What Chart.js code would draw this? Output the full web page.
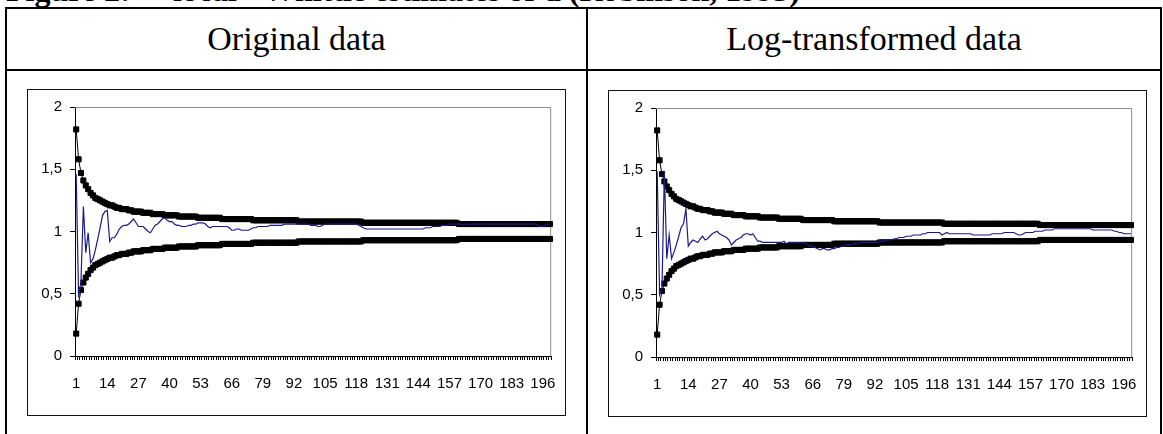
<!DOCTYPE html>
<html lang="en">
<head>
<meta charset="UTF-8">
<script src="https://cdn.jsdelivr.net/npm/chart.js@4.4.0/dist/chart.umd.min.js"></script>
<title>Local Whittle estimates of d</title>
<style>
    body {
        margin: 0;
        width: 1163px;
        height: 434px;
        overflow: hidden;
        position: relative;
        background: #fff;
        font-family: "Liberation Serif", "Times New Roman", serif;
    }
    .cap {
        position: absolute;
        top: -26px;
        font-size: 32px;
        line-height: 32px;
        font-weight: bold;
        white-space: nowrap;
    }
    .ln { position: absolute; background: #000; }
    .head {
        position: absolute;
        top: 9px;
        height: 60px;
        display: flex;
        align-items: center;
        justify-content: center;
        font-size: 34px;
        white-space: nowrap;
    }
    .box {
        position: absolute;
        border: 1.5px solid #111;
    }
    .box canvas { display: block; }
</style>
</head>
<body>
    <div class="cap" style="left:6px">Figure 2:</div>
    <div class="cap" style="left:173px">local - Whittle estimates of d (Robinson, 1995)</div>

    <div class="ln" style="left:5px; top:7px; width:1157px; height:2px"></div>
    <div class="ln" style="left:5px; top:69px; width:1157px; height:2px"></div>
    <div class="ln" style="left:5px; top:7px; width:2px; height:427px"></div>
    <div class="ln" style="left:586px; top:7px; width:2px; height:427px"></div>
    <div class="ln" style="left:1160px; top:7px; width:2px; height:427px"></div>

    <div class="head" style="left:7px; width:579px">Original data</div>
    <div class="head" style="left:588px; width:572px">Log-transformed data</div>

    <div class="box" style="left:26.5px; top:88.5px"><canvas id="orig" width="537" height="325"></canvas></div>
    <div class="box" style="left:607.5px; top:89.5px"><canvas id="logt" width="537" height="325"></canvas></div>
<script>
    const categories = [
        1, 2, 3, 4, 5, 6, 7, 8, 9, 10, 11, 12, 13, 14, 15, 16, 17, 18, 19, 20,
        21, 22, 23, 24, 25, 26, 27, 28, 29, 30, 31, 32, 33, 34, 35, 36, 37, 38, 39, 40,
        41, 42, 43, 44, 45, 46, 47, 48, 49, 50, 51, 52, 53, 54, 55, 56, 57, 58, 59, 60,
        61, 62, 63, 64, 65, 66, 67, 68, 69, 70, 71, 72, 73, 74, 75, 76, 77, 78, 79, 80,
        81, 82, 83, 84, 85, 86, 87, 88, 89, 90, 91, 92, 93, 94, 95, 96, 97, 98, 99, 100,
        101, 102, 103, 104, 105, 106, 107, 108, 109, 110, 111, 112, 113, 114, 115, 116, 117, 118, 119, 120,
        121, 122, 123, 124, 125, 126, 127, 128, 129, 130, 131, 132, 133, 134, 135, 136, 137, 138, 139, 140,
        141, 142, 143, 144, 145, 146, 147, 148, 149, 150, 151, 152, 153, 154, 155, 156, 157, 158, 159, 160,
        161, 162, 163, 164, 165, 166, 167, 168, 169, 170, 171, 172, 173, 174, 175, 176, 177, 178, 179, 180,
        181, 182, 183, 184, 185, 186, 187, 188, 189, 190, 191, 192, 193, 194, 195, 196, 197, 198, 199
    ];

    // confidence band (same in both panels)
    const upperBand = [
        1.82, 1.58, 1.47, 1.41, 1.37, 1.34, 1.31, 1.29, 1.27, 1.26,
        1.25, 1.24, 1.23, 1.22, 1.21, 1.21, 1.20, 1.19, 1.19, 1.18,
        1.18, 1.18, 1.17, 1.17, 1.16, 1.16, 1.16, 1.16, 1.15, 1.15,
        1.15, 1.15, 1.14, 1.14, 1.14, 1.14, 1.14, 1.13, 1.13, 1.13,
        1.13, 1.13, 1.13, 1.12, 1.12, 1.12, 1.12, 1.12, 1.12, 1.12,
        1.12, 1.11, 1.11, 1.11, 1.11, 1.11, 1.11, 1.11, 1.11, 1.11,
        1.11, 1.10, 1.10, 1.10, 1.10, 1.10, 1.10, 1.10, 1.10, 1.10,
        1.10, 1.10, 1.10, 1.10, 1.09, 1.09, 1.09, 1.09, 1.09, 1.09,
        1.09, 1.09, 1.09, 1.09, 1.09, 1.09, 1.09, 1.09, 1.09, 1.09,
        1.09, 1.09, 1.09, 1.08, 1.08, 1.08, 1.08, 1.08, 1.08, 1.08,
        1.08, 1.08, 1.08, 1.08, 1.08, 1.08, 1.08, 1.08, 1.08, 1.08,
        1.08, 1.08, 1.08, 1.08, 1.08, 1.08, 1.08, 1.08, 1.08, 1.08,
        1.07, 1.07, 1.07, 1.07, 1.07, 1.07, 1.07, 1.07, 1.07, 1.07,
        1.07, 1.07, 1.07, 1.07, 1.07, 1.07, 1.07, 1.07, 1.07, 1.07,
        1.07, 1.07, 1.07, 1.07, 1.07, 1.07, 1.07, 1.07, 1.07, 1.07,
        1.07, 1.07, 1.07, 1.07, 1.07, 1.07, 1.07, 1.07, 1.07, 1.07,
        1.06, 1.06, 1.06, 1.06, 1.06, 1.06, 1.06, 1.06, 1.06, 1.06,
        1.06, 1.06, 1.06, 1.06, 1.06, 1.06, 1.06, 1.06, 1.06, 1.06,
        1.06, 1.06, 1.06, 1.06, 1.06, 1.06, 1.06, 1.06, 1.06, 1.06,
        1.06, 1.06, 1.06, 1.06, 1.06, 1.06, 1.06, 1.06, 1.06
    ];
    const lowerBand = [
        0.18, 0.42, 0.53, 0.59, 0.63, 0.66, 0.69, 0.71, 0.73, 0.74,
        0.75, 0.76, 0.77, 0.78, 0.79, 0.79, 0.80, 0.81, 0.81, 0.82,
        0.82, 0.82, 0.83, 0.83, 0.84, 0.84, 0.84, 0.84, 0.85, 0.85,
        0.85, 0.85, 0.86, 0.86, 0.86, 0.86, 0.86, 0.87, 0.87, 0.87,
        0.87, 0.87, 0.87, 0.88, 0.88, 0.88, 0.88, 0.88, 0.88, 0.88,
        0.88, 0.89, 0.89, 0.89, 0.89, 0.89, 0.89, 0.89, 0.89, 0.89,
        0.89, 0.90, 0.90, 0.90, 0.90, 0.90, 0.90, 0.90, 0.90, 0.90,
        0.90, 0.90, 0.90, 0.90, 0.91, 0.91, 0.91, 0.91, 0.91, 0.91,
        0.91, 0.91, 0.91, 0.91, 0.91, 0.91, 0.91, 0.91, 0.91, 0.91,
        0.91, 0.91, 0.91, 0.92, 0.92, 0.92, 0.92, 0.92, 0.92, 0.92,
        0.92, 0.92, 0.92, 0.92, 0.92, 0.92, 0.92, 0.92, 0.92, 0.92,
        0.92, 0.92, 0.92, 0.92, 0.92, 0.92, 0.92, 0.92, 0.92, 0.92,
        0.93, 0.93, 0.93, 0.93, 0.93, 0.93, 0.93, 0.93, 0.93, 0.93,
        0.93, 0.93, 0.93, 0.93, 0.93, 0.93, 0.93, 0.93, 0.93, 0.93,
        0.93, 0.93, 0.93, 0.93, 0.93, 0.93, 0.93, 0.93, 0.93, 0.93,
        0.93, 0.93, 0.93, 0.93, 0.93, 0.93, 0.93, 0.93, 0.93, 0.93,
        0.94, 0.94, 0.94, 0.94, 0.94, 0.94, 0.94, 0.94, 0.94, 0.94,
        0.94, 0.94, 0.94, 0.94, 0.94, 0.94, 0.94, 0.94, 0.94, 0.94,
        0.94, 0.94, 0.94, 0.94, 0.94, 0.94, 0.94, 0.94, 0.94, 0.94,
        0.94, 0.94, 0.94, 0.94, 0.94, 0.94, 0.94, 0.94, 0.94
    ];

    // estimates of d, original series
    const originalD = [
        1.46, 0.47, 0.60, 1.20, 0.83, 0.99, 0.75, 0.78, 0.85, 0.94,
        1.03, 1.13, 1.16, 1.17, 0.92, 0.95, 0.95, 0.98, 1.02, 1.04,
        1.05, 1.05, 1.06, 1.08, 1.10, 1.07, 1.04, 1.04, 1.04, 1.02,
        1.00, 0.99, 1.02, 1.05, 1.06, 1.08, 1.10, 1.11, 1.09, 1.08,
        1.08, 1.06, 1.05, 1.05, 1.04, 1.04, 1.04, 1.05, 1.05, 1.06,
        1.06, 1.07, 1.07, 1.07, 1.06, 1.04, 1.03, 1.04, 1.04, 1.04,
        1.04, 1.04, 1.04, 1.04, 1.03, 1.01, 1.01, 1.02, 1.02, 1.01,
        1.01, 1.01, 1.01, 1.02, 1.03, 1.03, 1.04, 1.04, 1.04, 1.04,
        1.04, 1.05, 1.05, 1.05, 1.05, 1.05, 1.05, 1.06, 1.06, 1.06,
        1.06, 1.06, 1.06, 1.06, 1.06, 1.06, 1.06, 1.06, 1.05, 1.05,
        1.05, 1.04, 1.04, 1.05, 1.06, 1.06, 1.06, 1.06, 1.06, 1.06,
        1.06, 1.06, 1.06, 1.06, 1.06, 1.06, 1.06, 1.06, 1.05, 1.04,
        1.03, 1.02, 1.02, 1.02, 1.02, 1.02, 1.02, 1.02, 1.02, 1.02,
        1.02, 1.02, 1.02, 1.02, 1.02, 1.02, 1.02, 1.02, 1.02, 1.02,
        1.02, 1.02, 1.02, 1.02, 1.02, 1.02, 1.03, 1.03, 1.03, 1.04,
        1.04, 1.04, 1.04, 1.05, 1.05, 1.05, 1.06, 1.06, 1.06, 1.06,
        1.06, 1.06, 1.05, 1.06, 1.06, 1.06, 1.06, 1.06, 1.06, 1.06,
        1.06, 1.06, 1.06, 1.06, 1.06, 1.06, 1.06, 1.06, 1.06, 1.06,
        1.06, 1.06, 1.06, 1.06, 1.06, 1.06, 1.06, 1.06, 1.06, 1.06,
        1.06, 1.06, 1.06, 1.05, 1.04, 1.04, 1.05, 1.06, 1.06
    ];

    // estimates of d, log-transformed series
    const logD = [
        1.49, 0.50, 0.55, 1.49, 0.79, 0.98, 0.79, 0.84, 0.90, 0.97,
        1.04, 1.07, 1.19, 0.89, 0.92, 0.94, 0.93, 0.92, 0.95, 0.97,
        0.94, 0.95, 0.97, 0.99, 1.00, 1.01, 0.99, 0.98, 0.97, 0.96,
        0.94, 0.90, 0.92, 0.94, 0.95, 0.96, 0.98, 0.99, 0.99, 0.98,
        0.99, 0.96, 0.93, 0.93, 0.92, 0.92, 0.92, 0.92, 0.92, 0.92,
        0.92, 0.92, 0.92, 0.93, 0.91, 0.92, 0.92, 0.92, 0.92, 0.92,
        0.92, 0.92, 0.91, 0.90, 0.89, 0.89, 0.88, 0.87, 0.86, 0.87,
        0.87, 0.86, 0.86, 0.87, 0.87, 0.88, 0.88, 0.89, 0.89, 0.90,
        0.90, 0.90, 0.91, 0.91, 0.91, 0.92, 0.92, 0.92, 0.92, 0.92,
        0.92, 0.92, 0.92, 0.93, 0.93, 0.93, 0.94, 0.94, 0.94, 0.95,
        0.95, 0.96, 0.96, 0.96, 0.97, 0.97, 0.97, 0.98, 0.98, 0.98,
        0.98, 0.99, 0.99, 1.00, 1.00, 1.00, 1.00, 1.00, 1.00, 0.98,
        0.99, 1.00, 0.99, 0.99, 0.99, 0.99, 0.99, 0.99, 0.99, 0.99,
        0.99, 0.99, 0.98, 0.98, 0.98, 0.98, 0.98, 0.98, 0.98, 0.98,
        0.99, 0.99, 0.99, 0.99, 0.99, 1.00, 1.00, 1.00, 1.00, 1.00,
        0.99, 0.98, 0.98, 0.99, 1.00, 1.00, 1.00, 1.00, 1.01, 1.01,
        1.01, 1.01, 1.02, 1.02, 1.02, 1.02, 1.03, 1.03, 1.03, 1.03,
        1.03, 1.03, 1.03, 1.03, 1.03, 1.03, 1.03, 1.03, 1.03, 1.03,
        1.03, 1.03, 1.02, 1.02, 1.02, 1.02, 1.02, 1.02, 1.02, 1.02,
        1.02, 1.01, 1.01, 1.00, 1.00, 0.99, 0.99, 0.99, 0.99
    ];

    const yTickLabels = ['0', '0,5', '1', '1,5', '2'];
    const xLabelEvery = 13;

    const tickFont = { family: "'Liberation Sans', Arial, sans-serif", size: 15 };

    // gray frame on top and right of the plot area, like Excel
    const plotFrame = {
        id: 'plotFrame',
        beforeDatasetsDraw(chart) {
            const { ctx, chartArea: a } = chart;
            ctx.save();
            ctx.strokeStyle = '#8c8c8c';
            ctx.lineWidth = 1;
            ctx.beginPath();
            ctx.moveTo(a.left, a.top + 0.5);
            ctx.lineTo(a.right - 0.5, a.top + 0.5);
            ctx.lineTo(a.right - 0.5, a.bottom);
            ctx.stroke();
            ctx.restore();
        }
    };

    function bandSet(values) {
        return {
            data: values,
            borderColor: '#000',
            borderWidth: 1,
            backgroundColor: '#000',
            pointStyle: 'rect',
            pointRadius: 3.6,
            pointBorderWidth: 1,
            pointBorderColor: '#000',
            pointBackgroundColor: '#000',
            tension: 0
        };
    }

    function makeChart(id, estimates) {
        const ctx = document.getElementById(id).getContext('2d');
        return new Chart(ctx, {
            type: 'line',
            data: {
                labels: categories,
                datasets: [
                    {
                        data: estimates,
                        borderColor: '#1a1a8c',
                        borderWidth: 1.2,
                        pointRadius: 0,
                        tension: 0
                    },
                    bandSet(upperBand),
                    bandSet(lowerBand)
                ]
            },
            options: {
                responsive: false,
                animation: false,
                devicePixelRatio: 1,
                layout: { padding: { top: 10, right: 10, left: 0, bottom: 0 } },
                plugins: { legend: { display: false }, tooltip: { enabled: false } },
                scales: {
                    x: {
                        type: 'category',
                        offset: true,
                        grid: {
                            display: true,
                            offset: true,
                            drawOnChartArea: false,
                            tickLength: 4,
                            color: '#000'
                        },
                        border: { display: true, color: '#000', width: 1 },
                        ticks: {
                            autoSkip: false,
                            maxRotation: 0,
                            minRotation: 0,
                            padding: 15,
                            color: '#000',
                            font: tickFont,
                            callback: (v, i) => (i % xLabelEvery === 0 ? String(categories[i]) : '')
                        },
                        afterFit: (s) => { s.height = 59; }
                    },
                    y: {
                        min: 0,
                        max: 2,
                        grid: {
                            display: true,
                            drawOnChartArea: false,
                            tickLength: 5,
                            color: '#000'
                        },
                        border: { display: true, color: '#000', width: 1 },
                        ticks: {
                            stepSize: 0.5,
                            padding: 8,
                            color: '#000',
                            font: tickFont,
                            callback: (v) => yTickLabels[Math.round(v * 2)]
                        },
                        afterFit: (s) => { s.width = 47; }
                    }
                }
            },
            plugins: [plotFrame]
        });
    }

    makeChart('orig', originalD);
    makeChart('logt', logD);
</script>
</body>
</html>
